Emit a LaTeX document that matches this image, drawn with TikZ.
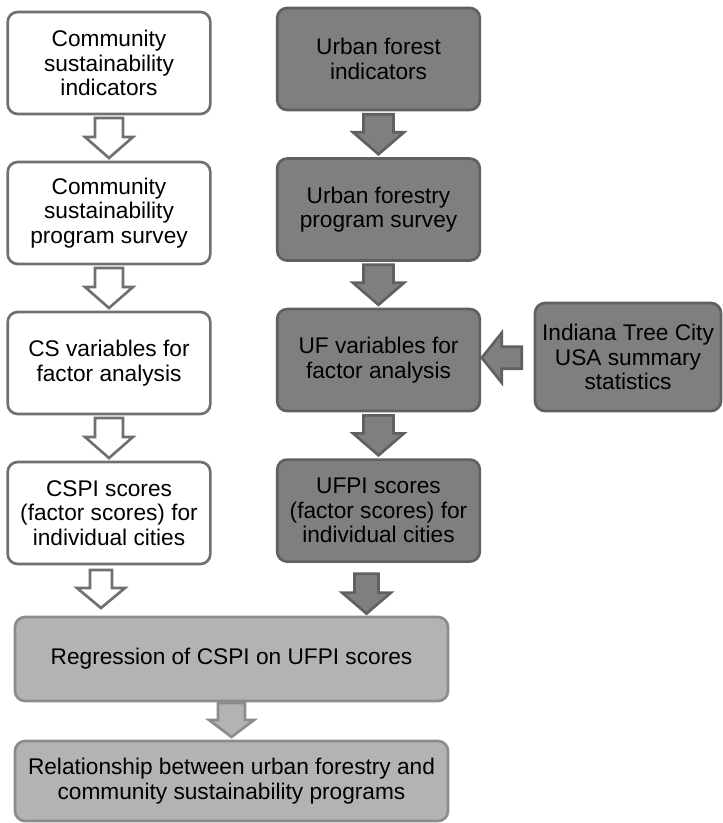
\documentclass[tikz,border=0pt]{standalone}
\usepackage{fontspec}
\setmainfont{Liberation Sans}
\usepackage{tikz}
\usetikzlibrary{shapes,arrows,positioning,calc}
\definecolor{darkbox}{RGB}{127,127,127}
\definecolor{darkline}{RGB}{96,96,96}
\definecolor{lightbox}{RGB}{179,179,179}
\definecolor{lightline}{RGB}{140,140,140}
\definecolor{whiteline}{RGB}{112,112,112}

% block arrow pointing down from its tail: half shaft / half head / length / head length
\tikzset{pics/blockarrow/.style args={#1/#2/#3/#4}{code={
        \path [pic actions] (-#1,0) -- (#1,0) -- (#1,#3-#4) -- (#2,#3-#4) -- (0,#3) -- (-#2,#3-#4) -- (-#1,#3-#4) -- cycle;}}}

\begin{document}
\begin{tikzpicture}[x=0.75pt, y=-0.75pt, line width=2pt,
        csbox/.style={rectangle, rounded corners=7.5pt, draw=whiteline, fill=white, align=center, font=\fontsize{17}{18.5}\selectfont, minimum width=152pt, minimum height=76.5pt, inner sep=0pt, outer sep=0pt},
        ufbox/.style={csbox, draw=darkline, fill=darkbox},
        resbox/.style={csbox, draw=lightline, fill=lightbox, minimum width=324.75pt},
        csarrow/.style={draw=whiteline, fill=white},
        ufarrow/.style={draw=darkline, fill=darkbox},
        resarrow/.style={draw=lightline, fill=lightbox}]
        \useasboundingbox (0,0) rectangle (723,823);

        \node [csbox] (cs1) at (109,63) {Community\\sustainability\\indicators};
        \node [csbox, below=36pt of cs1] (cs2) {Community\\sustainability\\program survey};
        \node [csbox, below=36pt of cs2] (cs3) {CS variables for\\factor analysis};
        \node [csbox, below=36pt of cs3] (cs4) {CSPI scores\\(factor scores) for\\individual cities};

        \node [ufbox] (uf1) at (378.5,59) {Urban forest\\indicators};
        \node [ufbox, below=36.4pt of uf1] (uf2) {Urban forestry\\program survey};
        \node [ufbox, below=36.4pt of uf2] (uf3) {UF variables for\\factor analysis};
        \node [ufbox, below=36.4pt of uf3] (uf4) {UFPI scores\\(factor scores) for\\individual cities};
        \node [ufbox, minimum width=139.5pt, minimum height=81pt] (tcusa) at (628,357) {Indiana Tree City\\USA summary\\statistics};

        \node [resbox, minimum height=63pt] (reg) at (231.5,659) {Regression of CSPI on UFPI scores};
        \node [resbox, minimum height=60pt, below=30pt of reg] (rel) {Relationship between urban forestry and\\community sustainability programs};

        \pic [csarrow] (csa1) at ($(cs1.south)!0.5!(cs2.north)+(0,-20)$) {blockarrow=14/24/40/21};
        \pic [csarrow] (csa2) at ($(cs2.south)!0.5!(cs3.north)+(0,-20)$) {blockarrow=14/24/40/21};
        \pic [csarrow] (csa3) at ($(cs3.south)!0.5!(cs4.north)+(0,-20)$) {blockarrow=14/24/40/21};
        \pic [csarrow] (csa4) at ($(cs4.south)+(-8,6)$) {blockarrow=11/24/38/20};

        \pic [ufarrow] (ufa1) at ($(uf1.south)!0.5!(uf2.north)+(0,-20)$) {blockarrow=15/25.5/40/22};
        \pic [ufarrow] (ufa2) at ($(uf2.south)!0.5!(uf3.north)+(0,-20)$) {blockarrow=15/25.5/40/22};
        \pic [ufarrow] (ufa3) at ($(uf3.south)!0.5!(uf4.north)+(0,-20)$) {blockarrow=15/25.5/40/22};
        \pic [ufarrow] (ufa4) at ($(uf4.south)+(-12,12)$) {blockarrow=12/24.5/40/21};
        \pic [ufarrow, rotate=-90] (tca) at ($(uf3.east)!0.76!(tcusa.west)$) {blockarrow=11/25/40/20};

        \pic [resarrow] (ra) at ($(reg.south)!0.5!(rel.north)+(0,-18)$) {blockarrow=13.5/22.5/34/17};
\end{tikzpicture}
\end{document}
